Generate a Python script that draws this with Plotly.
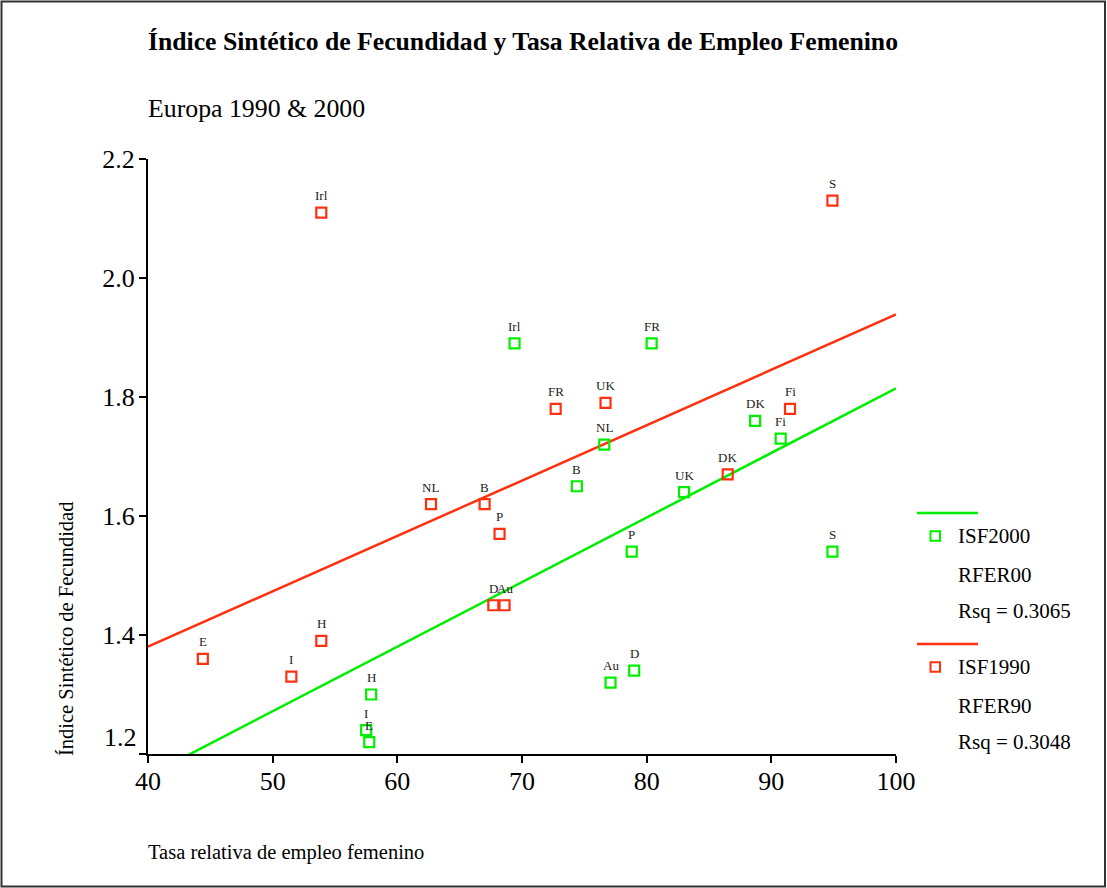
import numpy as np
import plotly.graph_objects as go

# ---------------- data ----------------
countries_90 = ["Irl", "S", "FR", "UK", "NL", "B", "P", "D", "Au", "DK", "Fi", "E", "I", "H"]
rfer90 = [53.9, 94.9, 72.7, 76.7, 62.7, 67.0, 68.2, 67.7, 68.6, 86.5, 91.5, 44.4, 51.5, 53.9]
isf1990 = [2.11, 2.13, 1.78, 1.79, 1.62, 1.62, 1.57, 1.45, 1.45, 1.67, 1.78, 1.36, 1.33, 1.39]

countries_00 = ["Irl", "FR", "NL", "B", "UK", "P", "DK", "Fi", "S", "D", "Au", "H", "I", "E"]
rfer00 = [69.4, 80.4, 76.6, 74.4, 83.0, 78.8, 88.7, 90.75, 94.9, 79.0, 77.1, 57.9, 57.5, 57.75]
isf2000 = [1.89, 1.89, 1.72, 1.65, 1.64, 1.54, 1.76, 1.73, 1.54, 1.34, 1.32, 1.30, 1.24, 1.22]

x_range = [40, 100]
y_range = [1.2, 2.2]
x_ticks = [40, 50, 60, 70, 80, 90, 100]
y_ticks = [1.2, 1.4, 1.6, 1.8, 2.0, 2.2]

series_00 = ["ISF2000", "RFER00", "Rsq = 0.3065"]
series_90 = ["ISF1990", "RFER90", "Rsq = 0.3048"]

title = "Índice Sintético de Fecundidad y Tasa Relativa de Empleo Femenino"
subtitle = "Europa 1990 & 2000"
y_title = "Índice Sintético de Fecundidad"
x_title = "Tasa relativa de empleo femenino"

# ---------------- style ----------------
GREEN = "#00EE00"
RED = "#FF3010"
FONT = "Liberation Serif, Times New Roman, serif"
W, H = 1107, 888
L, R, T, B = 148, 211, 159, 134


def px(x):
    return (x - L) / (W - L - R)


def py(y):
    return (H - B - y) / (H - T - B)


fig = go.Figure()

# regression lines (least squares on the data)
for xs, ys, col in [(rfer00, isf2000, GREEN), (rfer90, isf1990, RED)]:
    slope, intercept = np.polyfit(xs, ys, 1)
    lx = np.array(x_range, dtype=float)
    fig.add_trace(go.Scatter(x=lx, y=intercept + slope * lx, mode="lines",
                             line=dict(color=col, width=2.5), hoverinfo="skip",
                             showlegend=False))

# markers
for xs, ys, names, col in [(rfer00, isf2000, countries_00, GREEN),
                           (rfer90, isf1990, countries_90, RED)]:
    fig.add_trace(go.Scatter(x=xs, y=ys, mode="markers", text=names,
                             marker=dict(symbol="square-open", size=10, color=col,
                                         line=dict(width=2.2, color=col)),
                             cliponaxis=False, showlegend=False))

annotations = []
# point labels
for xs, ys, names in [(rfer00, isf2000, countries_00), (rfer90, isf1990, countries_90)]:
    for xv, yv, nm in zip(xs, ys, names):
        annotations.append(dict(x=xv, y=yv, text=nm, showarrow=False, yshift=17,
                                xanchor="center", yanchor="middle",
                                font=dict(family=FONT, size=13, color="#222")))

# lowest y tick label is lifted above the x axis, as in the reference
y_ticktext = ["" if v == y_range[0] else f"{v:.1f}" for v in y_ticks]
annotations.append(dict(xref="paper", y=y_range[0], x=px(139), text=f"{y_range[0]:.1f}",
                        showarrow=False, xanchor="right", yanchor="middle", yshift=17,
                        font=dict(family=FONT, size=26, color="black")))

# titles
annotations.append(dict(xref="paper", yref="paper", x=px(146), y=py(41), text="<b>" + title + "</b>",
                        showarrow=False, xanchor="left", yanchor="middle",
                        font=dict(family=FONT, size=25.7, color="black")))
annotations.append(dict(xref="paper", yref="paper", x=px(146), y=py(108), text=subtitle,
                        showarrow=False, xanchor="left", yanchor="middle",
                        font=dict(family=FONT, size=25.8, color="black")))
annotations.append(dict(xref="paper", yref="paper", x=px(66), y=py(629), text=y_title,
                        textangle=-90, showarrow=False, xanchor="center", yanchor="middle",
                        font=dict(family=FONT, size=20.5, color="black")))
annotations.append(dict(xref="paper", yref="paper", x=px(146), y=py(852), text=x_title,
                        showarrow=False, xanchor="left", yanchor="middle",
                        font=dict(family=FONT, size=20.5, color="black")))

shapes = []
# legend blocks
for labels, col, y0 in [(series_00, GREEN, 513), (series_90, RED, 644)]:
    shapes.append(dict(type="line", xref="paper", yref="paper",
                       x0=px(917), x1=px(978), y0=py(y0), y1=py(y0),
                       line=dict(color=col, width=2.5)))
    shapes.append(dict(type="rect", xref="paper", yref="paper",
                       x0=px(930.5), x1=px(940),
                       y0=py(y0 + 23 + 4.75), y1=py(y0 + 23 - 4.75),
                       line=dict(color=col, width=2)))
    for i, lab in enumerate(labels):
        yy = y0 + 23 + [0, 39, 75][i]
        annotations.append(dict(xref="paper", yref="paper", x=px(956), y=py(yy), text=lab,
                                showarrow=False, xanchor="left", yanchor="middle",
                                font=dict(family=FONT, size=21, color="black")))

# outer frame
shapes.append(dict(type="rect", xref="paper", yref="paper",
                   x0=px(1.5), x1=px(1105), y0=py(886.5), y1=py(1.5),
                   line=dict(color="#333", width=2)))

axis_common = dict(showgrid=False, zeroline=False, showline=True, linecolor="black",
                   linewidth=2, ticks="outside", ticklen=7, tickwidth=2, tickcolor="black",
                   tickfont=dict(family=FONT, size=26, color="black"), mirror=False)

fig.update_layout(
    width=W, height=H,
    margin=dict(l=L, r=R, t=T, b=B, pad=0),
    paper_bgcolor="white", plot_bgcolor="white",
    font=dict(family=FONT, color="black"),
    xaxis=dict(range=x_range, tickvals=x_ticks, ticklabelstandoff=-4, **axis_common),
    yaxis=dict(range=y_range, tickvals=y_ticks, ticktext=y_ticktext,
               ticklabelstandoff=-1, **axis_common),
    annotations=annotations, shapes=shapes, showlegend=False,
)

fig.write_html("out.html", config={"displayModeBar": False},
               post_script="document.body.style.margin='0';document.body.style.overflow='hidden';")
